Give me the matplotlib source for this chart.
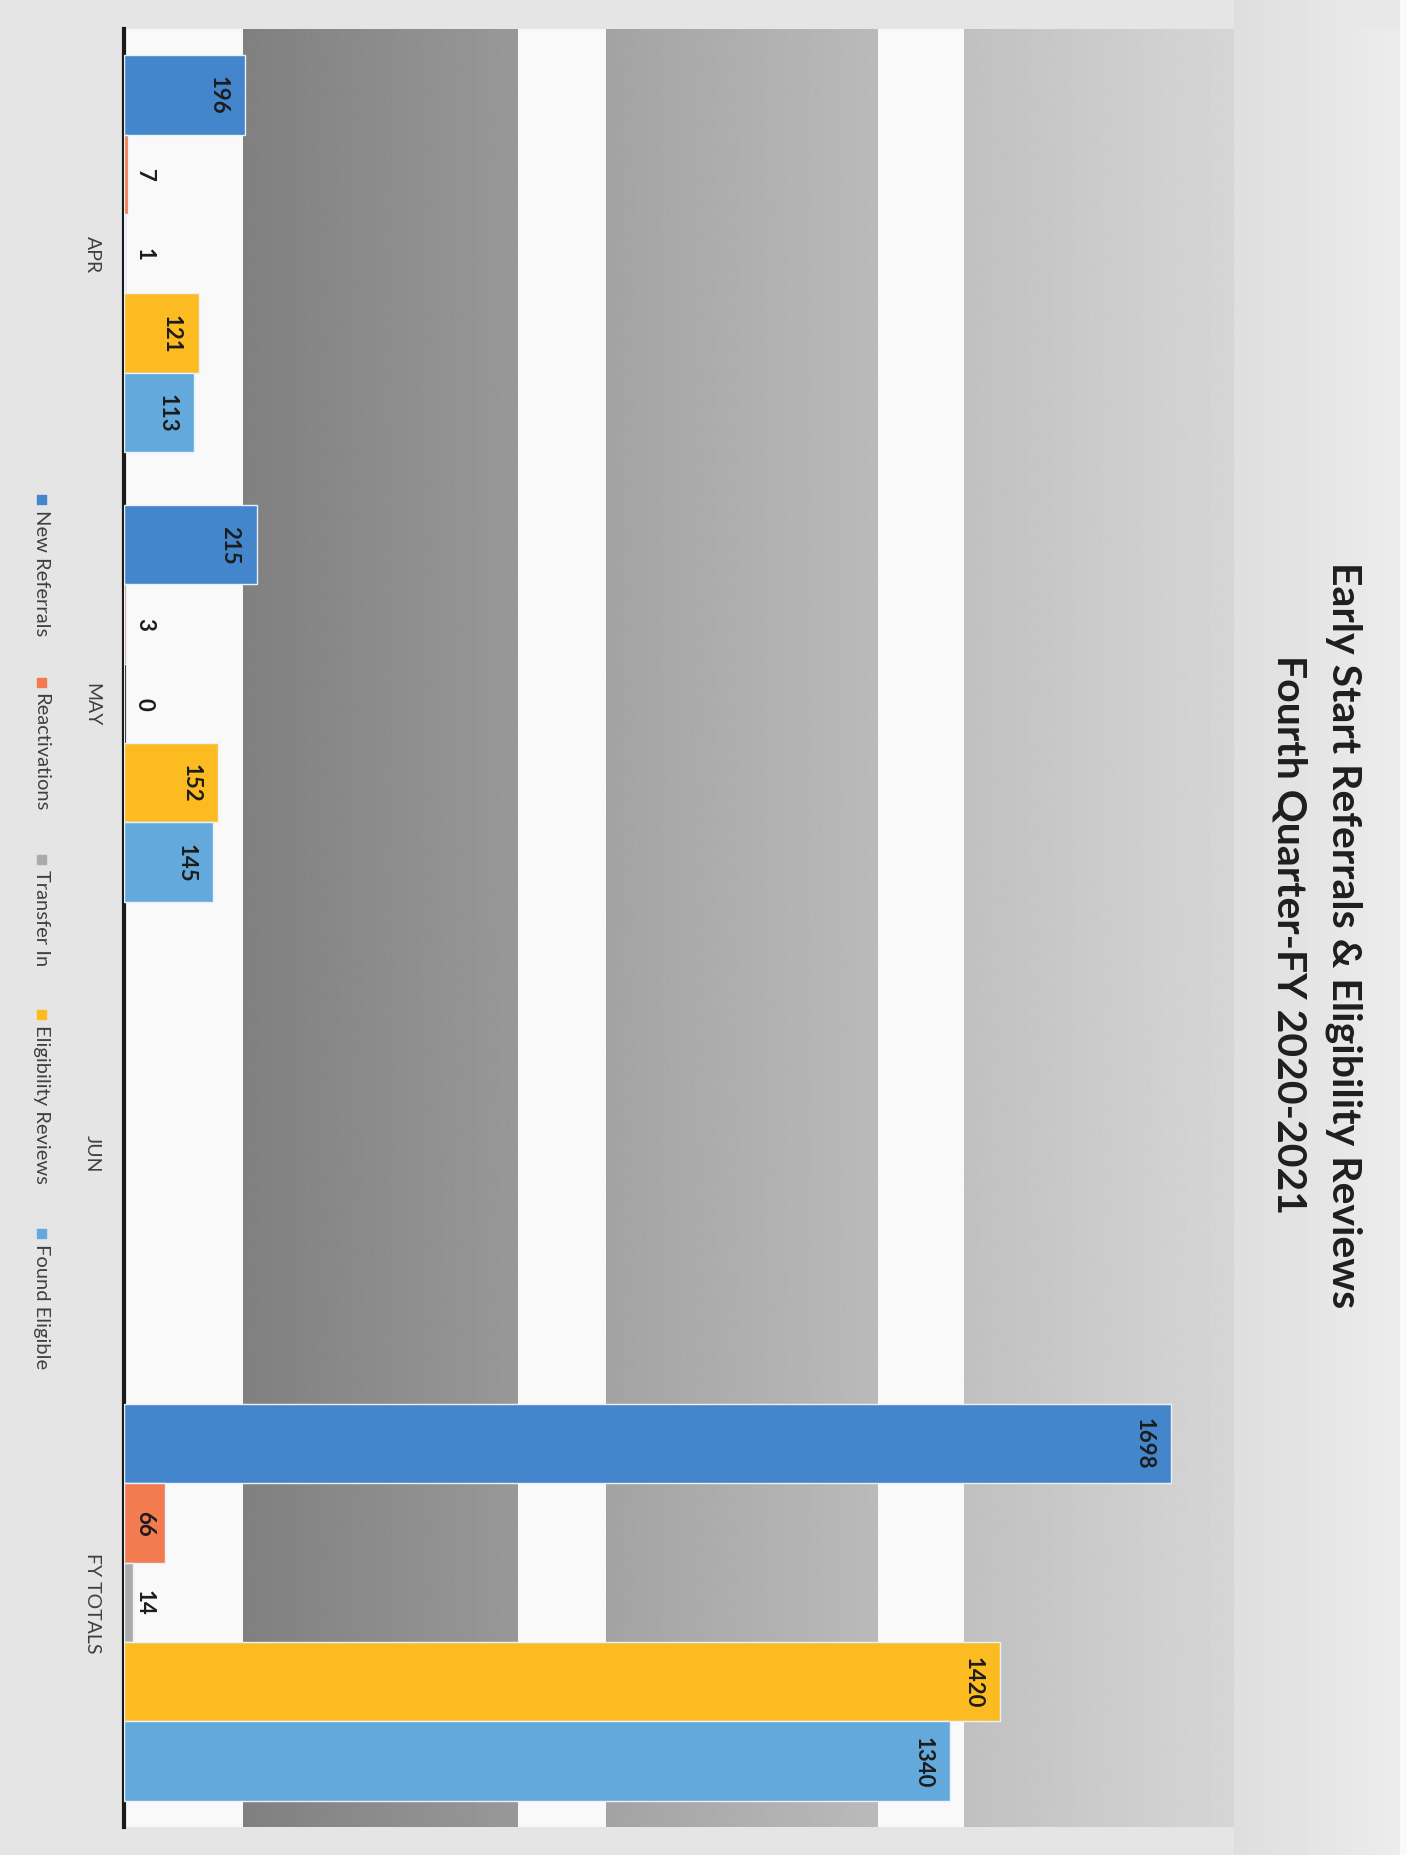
import numpy as np
import matplotlib
matplotlib.use('Agg')
import matplotlib.pyplot as plt
from matplotlib.patches import Rectangle

# ---------------- data ----------------
categories = ['APR', 'MAY', 'JUN', 'FY TOTALS']
series_names = ['New Referrals', 'Reactivations', 'Transfer In',
                'Eligibility Reviews', 'Found Eligible']
new_referrals = [196, 215, np.nan, 1698]
reactivations = [7, 3, np.nan, 66]
transfer_in = [1, 0, np.nan, 14]
eligibility_reviews = [121, 152, np.nan, 1420]
found_eligible = [113, 145, np.nan, 1340]
title_lines = ['Early Start Referrals & Eligibility Reviews',
               'Fourth Quarter-FY 2020-2021']

series_values = [new_referrals, reactivations, transfer_in,
                 eligibility_reviews, found_eligible]
colors = ['#4386CC', '#F27B50', '#ABABAB', '#FDBB22', '#64A9DC']

plt.rcParams['font.family'] = ['Lato', 'DejaVu Sans']

W, H = 1407, 1856
fig = plt.figure(figsize=(W / 100, H / 100), dpi=100, facecolor='#e4e4e6')


def fx(px):
    return px / W


def fy(py):
    return 1 - py / H


# ---------------- background ----------------
bg = fig.add_axes([0, 0, 1, 1], zorder=0)
bg.axis('off')
prof = np.full(W, 229.0)
xs = np.arange(W)
m = (xs >= 1234) & (xs < 1400)
prof[m] = np.linspace(222, 236, m.sum())
prof[xs >= 1400] = 250
img = np.tile(prof, (H, 1))
img[:30, :] = np.minimum(img[:30, :], 232)
img[:30, 1400:] = 250
bg.imshow(img, cmap='gray', vmin=0, vmax=255, aspect='auto',
          extent=(0, 1, 0, 1), interpolation='bilinear')
bg.set_xlim(0, 1)
bg.set_ylim(0, 1)

# ---------------- main axes ----------------
ax = fig.add_axes([fx(124), 1 - 1828 / H, 1110 / W, 1798 / H], zorder=1)
ax.set_facecolor('#f9f9fa')

bands = [(0.107, 0.354, 128, 152), (0.434, 0.679, 163, 186), (0.757, 1.0, 192, 214)]
for x0, x1, c0, c1 in bands:
    grad = np.linspace(c0, c1, 256).reshape(1, -1)
    ax.imshow(grad, cmap='gray', vmin=0, vmax=255, aspect='auto',
              extent=(x0, x1, 0, 1), transform=ax.transAxes,
              interpolation='bilinear', zorder=0.5)

n_series = len(series_values)
group_w = 0.884
bw = group_w / n_series
ypos = np.arange(len(categories))

for i, (vals, col) in enumerate(zip(series_values, colors)):
    vals = np.asarray(vals, dtype=float)
    mask = ~np.isnan(vals)
    yy = ypos[mask] + (i - (n_series - 1) / 2) * bw
    ax.barh(yy, vals[mask], height=bw, color=col, edgecolor='#e9f1fa',
            linewidth=1.0, zorder=3)
    for y, v in zip(yy, vals[mask]):
        ax.text(max(v - 44, 33), y, f'{int(v)}', rotation=270,
                ha='center', va='center', fontsize=16, fontweight='bold',
                color='#1c1c1c', zorder=4)

ax.set_xlim(0, 1800)
ax.set_ylim(len(categories) - 0.5, -0.5)
ax.set_xticks([])
ax.set_yticks([])
for s in ['top', 'right', 'bottom']:
    ax.spines[s].set_visible(False)
ax.spines['left'].set_linewidth(3)
ax.spines['left'].set_color('#1a1a1a')

for i, c in enumerate(categories):
    ax.text(-0.0288, i, c, transform=ax.get_yaxis_transform(), rotation=270,
            ha='center', va='center', fontsize=14, color='#404040')

# ---------------- legend (rotated) ----------------
leg_starts = [500, 683, 860, 1015, 1234]
sq = 9
for name, col, ys in zip(series_names, colors, leg_starts):
    fig.add_artist(Rectangle((fx(41 - sq / 2), fy(ys + sq / 2)), sq / W, sq / H,
                             transform=fig.transFigure, color=col, zorder=5))
    fig.text(fx(41), fy(ys + 10), name, rotation=270, ha='center', va='top',
             fontsize=14.5, color='#404040', zorder=5)

# ---------------- title ----------------
fig.text(fx(1344), fy(935), title_lines[0], rotation=270, ha='center',
         va='center', fontsize=29.5, fontweight='bold', color='#1e1e1e', zorder=5)
fig.text(fx(1289), fy(935), title_lines[1], rotation=270, ha='center',
         va='center', fontsize=29.5, fontweight='bold', color='#1e1e1e', zorder=5)

fig.savefig('out.png', dpi=100, facecolor=fig.get_facecolor())
